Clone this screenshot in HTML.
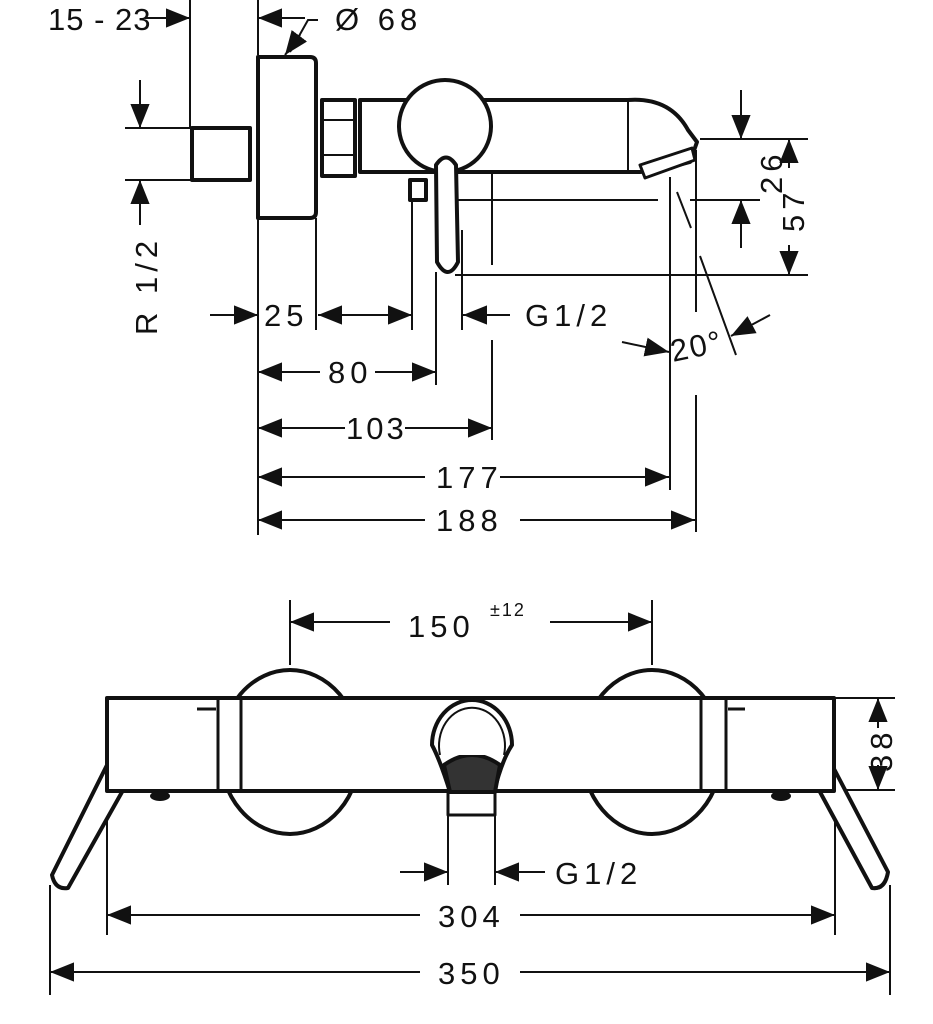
<!DOCTYPE html>
<html><head><meta charset="utf-8"><style>
html,body{margin:0;padding:0;background:#fff}
svg{display:block}
text{font-family:"Liberation Sans",sans-serif;font-size:31px;fill:#111;letter-spacing:5px}
</style></head><body>
<svg width="933" height="1024" viewBox="0 0 933 1024" xmlns="http://www.w3.org/2000/svg">
<defs>
<marker id="b" viewBox="0 0 10 10" refX="10" refY="5" markerWidth="24" markerHeight="24" markerUnits="userSpaceOnUse" orient="auto"><path d="M0,1 L10,5 L0,9z" fill="#111"/></marker>
</defs>
<g stroke="#111" fill="none" stroke-width="2">
<line x1="190" y1="0" x2="190" y2="128"/>
<line x1="145" y1="18" x2="190" y2="18" marker-end="url(#b)"/>
<line x1="258" y1="0" x2="258" y2="55"/>
<line x1="305" y1="18" x2="258" y2="18" marker-end="url(#b)"/>
<polyline points="318,20 308,20 290,52" />
<line x1="300" y1="35" x2="285" y2="55" marker-end="url(#b)"/>
<line x1="125" y1="128" x2="192" y2="128"/>
<line x1="125" y1="180" x2="192" y2="180"/>
<line x1="140" y1="80" x2="140" y2="128" marker-end="url(#b)"/>
<line x1="140" y1="225" x2="140" y2="180" marker-end="url(#b)"/>
<line x1="700" y1="139" x2="808" y2="139"/>
<line x1="690" y1="200" x2="760" y2="200"/>
<line x1="455" y1="200" x2="658" y2="200"/>
<line x1="455" y1="275" x2="808" y2="275"/>
<line x1="741" y1="90" x2="741" y2="139" marker-end="url(#b)"/>
<line x1="741" y1="248" x2="741" y2="200" marker-end="url(#b)"/>
<line x1="789" y1="168" x2="789" y2="139" marker-end="url(#b)"/>
<line x1="789" y1="245" x2="789" y2="275" marker-end="url(#b)"/>
<line x1="677" y1="192" x2="691" y2="228"/>
<line x1="700" y1="256" x2="736" y2="355"/>
<line x1="770" y1="315" x2="731" y2="336" marker-end="url(#b)"/>
<line x1="622" y1="342" x2="669" y2="352" marker-end="url(#b)"/>
<line x1="258" y1="218" x2="258" y2="535"/>
<line x1="316" y1="218" x2="316" y2="330"/>
<line x1="412" y1="200" x2="412" y2="330"/>
<line x1="436" y1="272" x2="436" y2="385"/>
<line x1="462" y1="230" x2="462" y2="330"/>
<line x1="492" y1="170" x2="492" y2="265"/>
<line x1="492" y1="340" x2="492" y2="440"/>
<line x1="670" y1="177" x2="670" y2="490"/>
<line x1="696" y1="150" x2="696" y2="312"/>
<line x1="696" y1="395" x2="696" y2="532"/>
<line x1="210" y1="315" x2="258" y2="315" marker-end="url(#b)"/>
<line x1="365" y1="315" x2="318" y2="315" marker-end="url(#b)"/>
<line x1="365" y1="315" x2="412" y2="315" marker-end="url(#b)"/>
<line x1="510" y1="315" x2="463" y2="315" marker-end="url(#b)"/>
<line x1="320" y1="372" x2="258" y2="372" marker-end="url(#b)"/>
<line x1="375" y1="372" x2="436" y2="372" marker-end="url(#b)"/>
<line x1="345" y1="428" x2="258" y2="428" marker-end="url(#b)"/>
<line x1="405" y1="428" x2="492" y2="428" marker-end="url(#b)"/>
<line x1="425" y1="477" x2="258" y2="477" marker-end="url(#b)"/>
<line x1="500" y1="477" x2="669" y2="477" marker-end="url(#b)"/>
<line x1="425" y1="520" x2="258" y2="520" marker-end="url(#b)"/>
<line x1="520" y1="520" x2="695" y2="520" marker-end="url(#b)"/>
</g>
<g stroke="#111" fill="#fff" stroke-width="4" stroke-linejoin="round">
<rect x="192" y="128" width="58" height="52"/>
<path d="M258,57 H310 Q316,57 316,63 V212 Q316,218 310,218 H258 Z"/>
<rect x="322" y="100" width="33" height="76"/>
<line x1="322" y1="120" x2="355" y2="120" stroke-width="2"/>
<line x1="322" y1="155" x2="355" y2="155" stroke-width="2"/>
<path d="M360,100 H628 Q670,97 688,130 L697,142 L690,162 L660,170 L640,172 H360 Z"/>
<line x1="628" y1="99" x2="628" y2="170" stroke-width="2"/>
<path d="M640,165 L692,148 L695,160 L645,178 Z" stroke-width="3"/>
<rect x="410" y="180" width="16" height="20"/>
<circle cx="445" cy="126" r="46"/>
<path d="M436,165 Q446,150 456,165 L458,262 Q448,282 437,262 Z"/>
</g>
<g stroke="#111" fill="none" stroke-width="2">
<line x1="290" y1="600" x2="290" y2="665"/>
<line x1="652" y1="600" x2="652" y2="665"/>
<line x1="390" y1="622" x2="290" y2="622" marker-end="url(#b)"/>
<line x1="550" y1="622" x2="652" y2="622" marker-end="url(#b)"/>
<line x1="835" y1="698" x2="895" y2="698"/>
<line x1="835" y1="790" x2="895" y2="790"/>
<line x1="878" y1="728" x2="878" y2="698" marker-end="url(#b)"/>
<line x1="878" y1="765" x2="878" y2="790" marker-end="url(#b)"/>
<line x1="107" y1="800" x2="107" y2="935"/>
<line x1="835" y1="800" x2="835" y2="935"/>
<line x1="50" y1="885" x2="50" y2="995"/>
<line x1="890" y1="885" x2="890" y2="995"/>
<line x1="448" y1="815" x2="448" y2="885"/>
<line x1="495" y1="815" x2="495" y2="885"/>
<line x1="400" y1="872" x2="448" y2="872" marker-end="url(#b)"/>
<line x1="545" y1="872" x2="495" y2="872" marker-end="url(#b)"/>
<line x1="420" y1="915" x2="107" y2="915" marker-end="url(#b)"/>
<line x1="520" y1="915" x2="835" y2="915" marker-end="url(#b)"/>
<line x1="420" y1="972" x2="50" y2="972" marker-end="url(#b)"/>
<line x1="520" y1="972" x2="890" y2="972" marker-end="url(#b)"/>
</g>
<g stroke="#111" fill="#fff" stroke-width="4" stroke-linejoin="round">
<ellipse cx="290" cy="752" rx="70" ry="82"/>
<ellipse cx="652" cy="752" rx="70" ry="82"/>
<path d="M107,765 L52,875 Q55,890 68,888 L122,792 Z"/>
<path d="M832,765 L888,872 Q885,890 872,888 L820,792 Z"/>
<rect x="107" y="698" width="727" height="93"/>
<line x1="218" y1="698" x2="218" y2="791" stroke-width="3"/>
<line x1="241" y1="698" x2="241" y2="791" stroke-width="3"/>
<line x1="701" y1="698" x2="701" y2="791" stroke-width="3"/>
<line x1="726" y1="698" x2="726" y2="791" stroke-width="3"/>
<line x1="197" y1="709" x2="216" y2="709" stroke-width="3"/>
<line x1="728" y1="709" x2="745" y2="709" stroke-width="3"/>
<path d="M448,791 L448,815 L495,815 L495,791" stroke-width="3"/>
<path d="M450,792 Q440,760 432,745 A40,45 0 1 1 512,745 Q502,760 494,792 Z"/>
<path d="M444,765 Q472,745 500,765 L495,792 L450,792 Z" fill="#333"/>
<path d="M440,755 A33,38 0 1 1 504,755" stroke-width="2"/>
</g>
<g fill="#111"><ellipse cx="160" cy="796" rx="10" ry="5"/><ellipse cx="781" cy="796" rx="10" ry="5"/></g>
<text x="48" y="30" style="letter-spacing:1px">15 - 23</text>
<text x="335" y="30">Ø 68</text>
<text x="157" y="335" transform="rotate(-90 157 335)">R 1/2</text>
<text x="264" y="326">25</text>
<text x="525" y="326">G1/2</text>
<text x="673" y="362" transform="rotate(-12 673 362)" style="letter-spacing:2px">20°</text>
<text x="328" y="383">80</text>
<text x="346" y="439" style="letter-spacing:3px">103</text>
<text x="436" y="488">177</text>
<text x="436" y="531">188</text>
<text x="782" y="194" transform="rotate(-90 782 194)">26</text>
<text x="804" y="232" transform="rotate(-90 804 232)">57</text>
<text x="408" y="637">150</text>
<text x="490" y="616" style="font-size:18px;letter-spacing:2px">±12</text>
<text x="892" y="772" transform="rotate(-90 892 772)">38</text>
<text x="555" y="884">G1/2</text>
<text x="438" y="927">304</text>
<text x="438" y="984">350</text>
</svg>
</body></html>
